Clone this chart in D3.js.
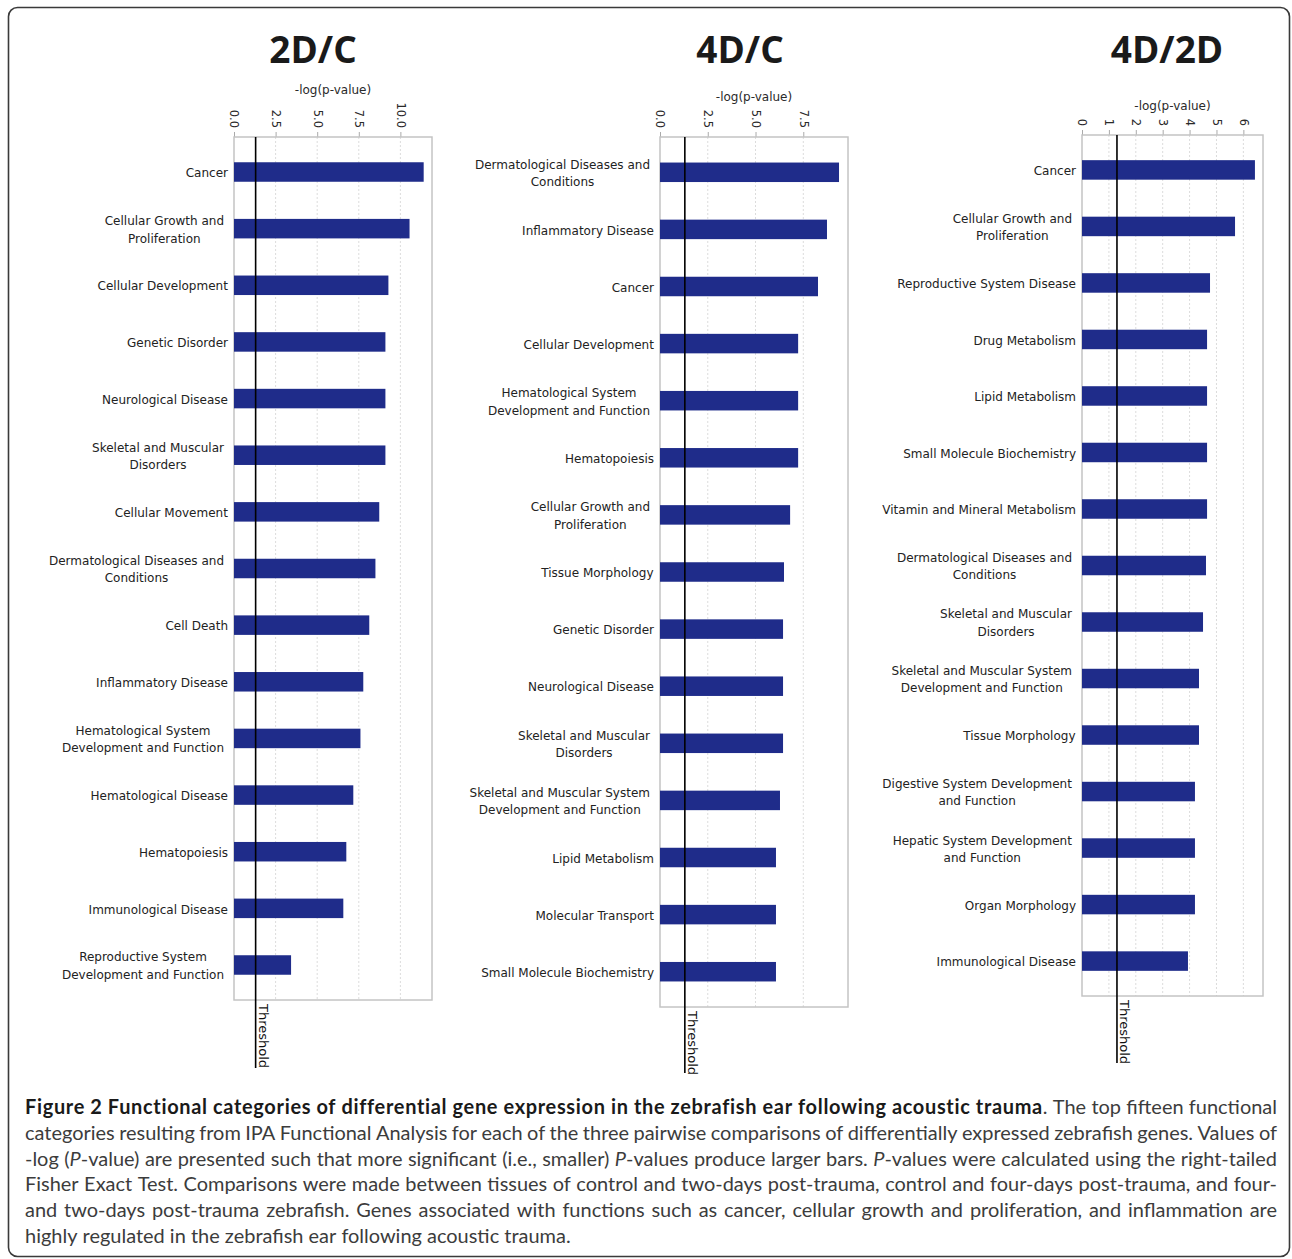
<!DOCTYPE html>
<html><head><meta charset="utf-8">
<script src="https://cdn.jsdelivr.net/npm/d3@7/dist/d3.min.js"></script>
<style>body{margin:0;background:#fff}svg{display:block}</style>
</head><body>
<svg id="c" width="1292" height="1259"></svg>
<script>
// ---------------- data ----------------
const panelTitles = ["2D/C", "4D/C", "4D/2D"];

const cats2DC = ["Cancer", "Cellular Growth and\nProliferation", "Cellular Development", "Genetic Disorder",
  "Neurological Disease", "Skeletal and Muscular\nDisorders", "Cellular Movement",
  "Dermatological Diseases and\nConditions", "Cell Death", "Inflammatory Disease",
  "Hematological System\nDevelopment and Function", "Hematological Disease", "Hematopoiesis",
  "Immunological Disease", "Reproductive System\nDevelopment and Function"];
const vals2DC = [11.4, 10.55, 9.28, 9.1, 9.1, 9.1, 8.73, 8.5, 8.13, 7.77, 7.6, 7.17, 6.75, 6.57, 3.43];

const cats4DC = ["Dermatological Diseases and\nConditions", "Inflammatory Disease", "Cancer",
  "Cellular Development", "Hematological System\nDevelopment and Function", "Hematopoiesis",
  "Cellular Growth and\nProliferation", "Tissue Morphology", "Genetic Disorder", "Neurological Disease",
  "Skeletal and Muscular\nDisorders", "Skeletal and Muscular System\nDevelopment and Function",
  "Lipid Metabolism", "Molecular Transport", "Small Molecule Biochemistry"];
const vals4DC = [9.37, 8.74, 8.27, 7.23, 7.23, 7.23, 6.81, 6.49, 6.44, 6.44, 6.44, 6.28, 6.07, 6.07, 6.07];

const cats4D2D = ["Cancer", "Cellular Growth and\nProliferation", "Reproductive System Disease",
  "Drug Metabolism", "Lipid Metabolism", "Small Molecule Biochemistry", "Vitamin and Mineral Metabolism",
  "Dermatological Diseases and\nConditions", "Skeletal and Muscular\nDisorders",
  "Skeletal and Muscular System\nDevelopment and Function", "Tissue Morphology",
  "Digestive System Development\nand Function", "Hepatic System Development\nand Function",
  "Organ Morphology", "Immunological Disease"];
const vals4D2D = [6.43, 5.69, 4.76, 4.65, 4.65, 4.65, 4.65, 4.61, 4.5, 4.35, 4.35, 4.2, 4.2, 4.2, 3.94];

const ticks2DC = [0, 2.5, 5, 7.5, 10];
const tickLabels2DC = ["0.0", "2.5", "5.0", "7.5", "10.0"];
const ticks4DC = [0, 2.5, 5, 7.5];
const tickLabels4DC = ["0.0", "2.5", "5.0", "7.5"];
const ticks4D2D = [0, 1, 2, 3, 4, 5, 6];
const tickLabels4D2D = ["0", "1", "2", "3", "4", "5", "6"];
const axisMax = [11.9, 9.84, 6.73];

const thresholdValue = 1.3;
const axisTitle = "-log(p-value)";
const thresholdLabel = "Threshold";

const captionLines = [
  [["b", "Figure 2 Functional categories of differential gene expression in the zebrafish ear following acoustic trauma"], ["r", ". The top fifteen functional"]],
  [["r", "categories resulting from IPA Functional Analysis for each of the three pairwise comparisons of differentially expressed zebrafish genes. Values of"]],
  [["r", "-log ("], ["i", "P"], ["r", "-value) are presented such that more significant (i.e., smaller) "], ["i", "P"], ["r", "-values produce larger bars. "], ["i", "P"], ["r", "-values were calculated using the right-tailed"]],
  [["r", "Fisher Exact Test. Comparisons were made between tissues of control and two-days post-trauma, control and four-days post-trauma, and four-"]],
  [["r", "and two-days post-trauma zebrafish. Genes associated with functions such as cancer, cellular growth and proliferation, and inflammation are"]],
  [["r", "highly regulated in the zebrafish ear following acoustic trauma."]]
];

// ---------------- layout ----------------
const panels = [
  {title: panelTitles[0], cats: cats2DC, vals: vals2DC, ticks: ticks2DC, tl: tickLabels2DC, max: axisMax[0],
   left: 234, right: 432, top: 137, bottom: 1000, titleX: 313, axisTitleY: 90, threshBottom: 1068},
  {title: panelTitles[1], cats: cats4DC, vals: vals4DC, ticks: ticks4DC, tl: tickLabels4DC, max: axisMax[1],
   left: 660, right: 848, top: 137, bottom: 1007, titleX: 740, axisTitleY: 97, threshBottom: 1073},
  {title: panelTitles[2], cats: cats4D2D, vals: vals4D2D, ticks: ticks4D2D, tl: tickLabels4D2D, max: axisMax[2],
   left: 1082, right: 1263, top: 135, bottom: 996, titleX: 1167, axisTitleY: 106, threshBottom: 1063}
];

const svg = d3.select("#c");
svg.append("rect").attr("width", 1292).attr("height", 1259).attr("fill", "#fff");
svg.append("rect").attr("x", 8.5).attr("y", 7.5).attr("width", 1281).attr("height", 1249)
  .attr("rx", 9).attr("fill", "none").attr("stroke", "#3a3a3a").attr("stroke-width", 1.6);

const labelFont = "'DejaVu Sans', Verdana, sans-serif";

panels.forEach(p => {
  const g = svg.append("g");
  const x = d3.scaleLinear().domain([0, p.max]).range([p.left, p.right]);
  const y = d3.scalePoint().domain(p.cats).range([p.top, p.bottom]).padding(0.618);

  // title
  g.append("text").attr("x", p.titleX).attr("y", 63).attr("text-anchor", "middle")
    .attr("font-family", "'Open Sans', sans-serif").attr("font-weight", 700).attr("font-size", 37)
    .attr("fill", "#1a1a1a").text(p.title);

  // axis title
  g.append("text").attr("x", (p.left + p.right) / 2).attr("y", p.axisTitleY).attr("dy", "0.35em")
    .attr("text-anchor", "middle").attr("font-family", labelFont).attr("font-size", 12)
    .attr("fill", "#2a2a2a").text(axisTitle);

  // gridlines
  g.selectAll("line.grid").data(p.ticks.filter(t => t > 0)).join("line")
    .attr("x1", d => x(d)).attr("x2", d => x(d)).attr("y1", p.top).attr("y2", p.bottom)
    .attr("stroke", "#dcdcdc").attr("stroke-width", 1).attr("stroke-dasharray", "2,2");

  // axis
  const ax = g.append("g").attr("transform", `translate(0,${p.top})`)
    .call(d3.axisTop(x).tickValues(p.ticks).tickFormat((d, i) => p.tl[i]).tickSize(5).tickSizeOuter(0));
  ax.select(".domain").remove();
  ax.selectAll(".tick line").attr("stroke", "#aaa");
  ax.selectAll(".tick text").attr("transform", "rotate(90)").attr("x", -9).attr("y", 0)
    .attr("dy", "0.35em").attr("text-anchor", "end").attr("font-family", labelFont)
    .attr("font-size", 11.5).attr("fill", "#2a2a2a");

  // box
  g.append("rect").attr("x", p.left).attr("y", p.top).attr("width", p.right - p.left)
    .attr("height", p.bottom - p.top).attr("fill", "none").attr("stroke", "#c4c4c4").attr("stroke-width", 1.5);

  // bars
  const bh = 19.5;
  g.selectAll("rect.bar").data(p.cats).join("rect").attr("class", "bar")
    .attr("x", x(0)).attr("y", d => y(d) - bh / 2)
    .attr("width", (d, i) => x(p.vals[i]) - x(0)).attr("height", bh)
    .attr("fill", "#1f2c8a");

  // category labels
  p.cats.forEach(c => {
    const lines = c.split("\n");
    const t = g.append("text").attr("font-family", labelFont).attr("font-size", 12)
      .attr("fill", "#222").attr("text-anchor", "middle");
    const n = lines.length;
    lines.forEach((ln, k) => {
      t.append("tspan").attr("x", 0).attr("y", (k - (n - 1) / 2) * 17.5).attr("dy", "0.35em").text(ln);
    });
    const w = t.node().getBBox().width;
    const rightEdge = p.left - (n > 1 ? 10 : 6);
    t.attr("transform", `translate(${rightEdge - w / 2},${y(c) + 1})`);
  });

  // threshold
  const tx = x(thresholdValue);
  g.append("line").attr("x1", tx).attr("x2", tx).attr("y1", p.top).attr("y2", p.threshBottom)
    .attr("stroke", "#000").attr("stroke-width", 1.6);
  g.append("text").attr("transform", `translate(${tx + 3},${p.bottom + 4}) rotate(90)`)
    .attr("text-anchor", "start").attr("font-family", labelFont).attr("font-size", 13)
    .attr("fill", "#111").text(thresholdLabel);
});

// ---------------- caption (justified) ----------------
const capLeft = 25, capRight = 1277, capBase0 = 1114, capStep = 25.8;
const capFamily = "Lato, 'Open Sans', sans-serif";
let capSize = 17;
function measure(txt, weight) {
  const t = svg.append("text").attr("font-family", capFamily).attr("font-size", capSize)
    .attr("font-weight", weight || 400).text(txt);
  const w = t.node().getComputedTextLength();
  t.remove();
  return w;
}
capSize = capSize * 545 / measure(captionLines[5][0][1]);
// bold run spans 25 → 1045 in the figure: calibrate its letter spacing
const boldText = captionLines[0][0][1];
const boldLS = (1020 - measure(boldText, 700)) / (boldText.length - 1);

captionLines.forEach((segs, li) => {
  const words = [];
  let cur = [];
  segs.forEach(([st, txt]) => {
    const parts = txt.split(" ");
    parts.forEach((pt, k) => {
      if (k > 0) { if (cur.length) words.push(cur); cur = []; }
      if (pt.length) cur.push([st, pt]);
    });
  });
  if (cur.length) words.push(cur);
  const yb = capBase0 + li * capStep;
  const nodes = words.map(w => {
    const t = svg.append("text").attr("y", yb).attr("font-family", capFamily).attr("font-size", capSize);
    w.forEach(([st, s]) => {
      t.append("tspan").text(s)
        .attr("font-weight", st === "b" ? 700 : 400)
        .attr("font-style", st === "i" ? "italic" : "normal")
        .attr("letter-spacing", st === "b" ? boldLS : 0)
        .attr("fill", st === "b" ? "#1a1a1a" : "#3c3c3c");
    });
    return t;
  });
  const widths = nodes.map(t => t.node().getComputedTextLength());
  const total = d3.sum(widths);
  let gap;
  if (li === captionLines.length - 1) {
    gap = measure("a a") - measure("aa");
  } else {
    gap = (capRight - capLeft - total) / (nodes.length - 1);
  }
  let xx = capLeft;
  nodes.forEach((t, k) => { t.attr("x", xx); xx += widths[k] + gap; });
});
</script>
</body></html>
